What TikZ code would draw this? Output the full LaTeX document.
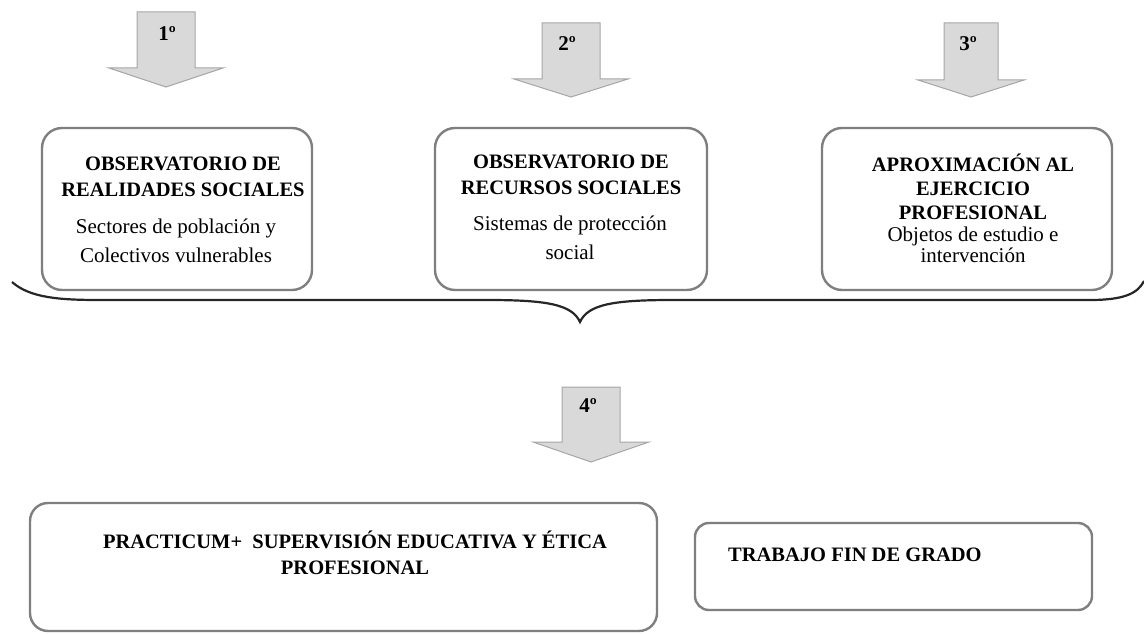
\documentclass[tikz,border=0pt]{standalone}
\usepackage{fontspec}
\setmainfont{Liberation Serif}
\definecolor{boxgray}{HTML}{7F7F7F}
\definecolor{arrowfill}{HTML}{D9D9D9}
\definecolor{arrowedge}{HTML}{A6A6A6}
\definecolor{braceblack}{HTML}{262626}
\begin{document}
\begin{tikzpicture}[x=1pt,y=-1pt,
  boxst/.style={draw=boxgray, line width=2.4pt, rounded corners=20pt, fill=white, inner sep=0pt},
  arrowst/.style={fill=arrowfill, draw=arrowedge, line width=1pt},
  headst/.style={font=\bfseries\fontsize{20.5}{26}\selectfont, align=center, inner sep=0pt},
  subst/.style={font=\fontsize{21}{29}\selectfont, align=center, inner sep=0pt},
  numst/.style={font=\bfseries\fontsize{21}{22}\selectfont, inner sep=0pt},
  bracest/.style={draw=braceblack, line width=2.2pt}]
\useasboundingbox (0,0) rectangle (1144,634);

% arrows
\begin{scope}[shift={(166,12)}]
  \draw[arrowst] (-29,0) -- (29,0) -- (29,56) -- (57,56) -- (0,75) -- (-57,56) -- (-29,56) -- cycle;
\end{scope}
\begin{scope}[shift={(571,23)}]
  \draw[arrowst] (-29,0) -- (29,0) -- (29,56) -- (57,56) -- (0,74) -- (-57,56) -- (-29,56) -- cycle;
\end{scope}
\begin{scope}[shift={(971,23)}]
  \draw[arrowst] (-27,0) -- (27,0) -- (27,57) -- (53,57) -- (0,74) -- (-53,57) -- (-27,57) -- cycle;
\end{scope}
\begin{scope}[shift={(591,387)}]
  \draw[arrowst] (-29,0) -- (29,0) -- (29,55) -- (58,55) -- (0,75) -- (-58,55) -- (-29,55) -- cycle;
\end{scope}
\node[numst] (n1) at (167,34) {1º};
\node[numst] (n2) at (567,44) {2º};
\node[numst] (n3) at (968,44) {3º};
\node[numst] (n4) at (588,406) {4º};

% top boxes
\node[boxst, minimum width=270pt, minimum height=162pt] (b1) at (177,209) {};
\node[boxst, minimum width=272pt, minimum height=162pt] (b2) at (571,209) {};
\node[boxst, minimum width=290pt, minimum height=162pt] (b3) at (967,209) {};

\node[headst] (h1) at (183,177) {OBSERVATORIO DE\\REALIDADES SOCIALES};
\node[subst] (s1) at (176,241) {Sectores de población y\\Colectivos vulnerables};
\node[headst] (h2) at (571,175) {OBSERVATORIO DE\\RECURSOS SOCIALES};
\node[subst] (s2) at (570,238) {Sistemas de protección\\social};
\node[headst, font=\bfseries\fontsize{20.5}{24}\selectfont] (h3) at (973,187) {APROXIMACIÓN AL\\EJERCICIO\\PROFESIONAL};
\node[subst, font=\fontsize{21}{21}\selectfont] (s3) at (973,245) {Objetos de estudio e\\intervención};

% brace
\draw[bracest] (12,282) .. controls (30,298) and (60,300) .. (100,300)
  -- (487,300) .. controls (545,300) and (572,304) .. (580,322)
  .. controls (588,304) and (615,300) .. (673,300)
  -- (1090,300) .. controls (1125,300) and (1138,293) .. (1144,281);

% bottom boxes
\node[boxst, minimum width=627pt, minimum height=128pt, rounded corners=18pt] (b5) at (343.5,567) {};
\node[headst] (h5) at (355,553) {PRACTICUM+ \ SUPERVISIÓN EDUCATIVA Y ÉTICA\\PROFESIONAL};
\node[boxst, minimum width=397pt, minimum height=87pt, rounded corners=14pt] (b6) at (893.5,566.5) {};
\node[headst, anchor=west] (h6) at (728,555) {TRABAJO FIN DE GRADO};
\end{tikzpicture}
\end{document}
